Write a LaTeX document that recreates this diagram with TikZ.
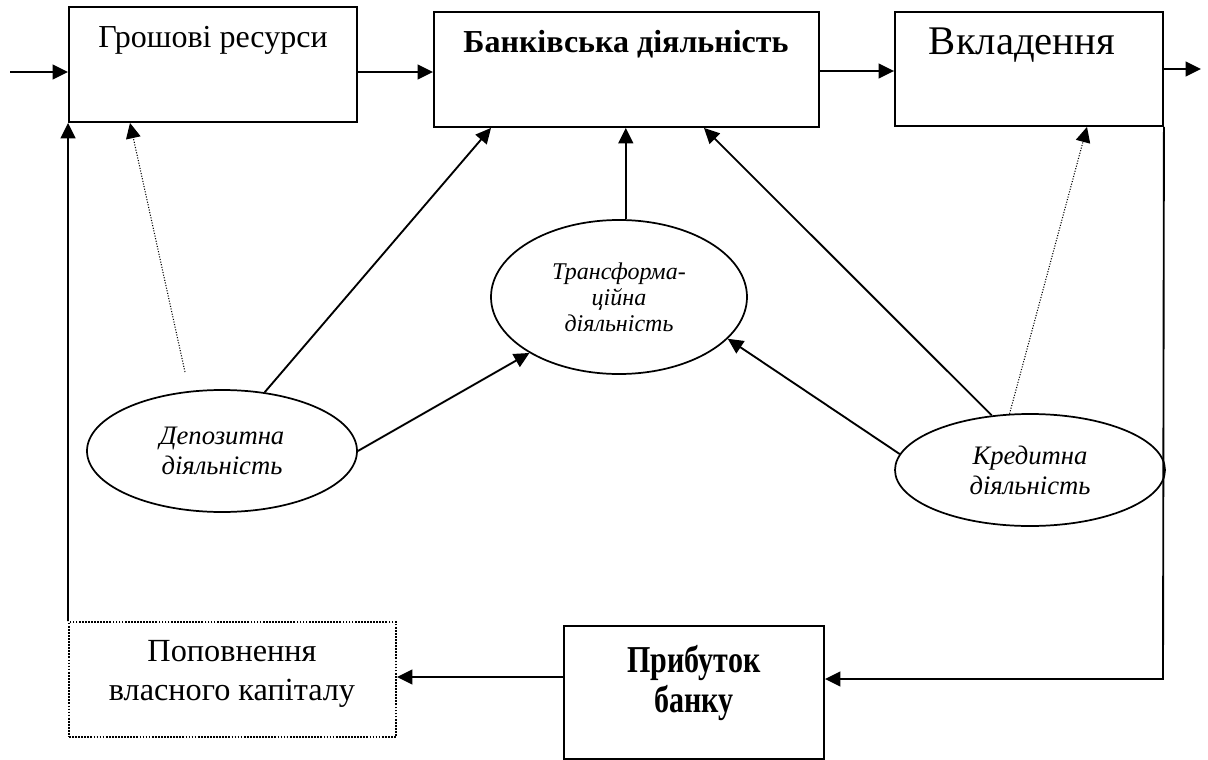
\documentclass[tikz,border=0pt]{standalone}
\usepackage{fontspec}
\setmainfont{Liberation Serif}
\usetikzlibrary{arrows.meta,shapes.geometric,fit,calc}
\newcommand\narrowtext[1]{\scalebox{0.79}[1]{#1}}
\begin{document}
\begin{tikzpicture}[x=0.75pt,y=-0.75pt,
  box/.style={draw, line width=1.4pt, inner sep=0pt},
  dbox/.style={draw, line width=1.5pt, dash pattern=on 1.3pt off 1pt, inner sep=0pt},
  ell/.style={draw, ellipse, line width=1.3pt, inner sep=0pt, align=center,
    font=\fontsize{20}{22.5}\selectfont\itshape},
  con/.style={line width=1.4pt, -{Triangle[length=11.5pt,width=11pt]}},
  dot/.style={line width=0.8pt, dash pattern=on 0.8pt off 1.2pt, -{Triangle[length=11.5pt,width=11pt]}},
  txt/.style={inner sep=0pt, font=\fontsize{24}{29}\selectfont},
  btxt/.style={inner sep=0pt, font=\fontsize{24}{29}\selectfont\bfseries},
]
\useasboundingbox (0,0) rectangle (1208,760);

% boxes
\node[box, fit={(69,7) (357,122)}] (b1) {};
\node[box, fit={(434,12) (819,127)}] (b2) {};
\node[box, fit={(895,12) (1163,126)}] (b3) {};
\node[dbox, fit={(69,622) (396,737)}] (b4) {};
\node[box, fit={(564,626) (824,759)}] (b5) {};

% box texts
\node[txt, anchor=base] (t1) at (213,47) {Грошові ресурси};
\node[btxt, anchor=base] (t2) at (626,52) {Банківська діяльність};
\node[txt, anchor=base, font=\fontsize{30.5}{34}\selectfont] (t3) at (1022,55) {Вкладення};
\node[txt, align=center, font=\fontsize{24.2}{29.25}\selectfont] (t4) at (232,674) {Поповнення\\власного капіталу};
\node[txt, align=center, font=\fontsize{28.5}{30}\selectfont\bfseries] (t5) at (694,683) {\narrowtext{Прибуток}\\\narrowtext{банку}};

% ellipses
\node[ell, minimum width=270*0.75pt, minimum height=122*0.75pt] (dep) at (222,451) {Депозитна\\діяльність};
\node[ell, minimum width=256*0.75pt, minimum height=154*0.75pt,
  font=\fontsize{18}{19.5}\selectfont\itshape] (tr) at (619,297) {Трансформа-\\ційна\\діяльність};
\node[ell, minimum width=270*0.75pt, minimum height=112*0.75pt] (cr) at (1030,470) {Кредитна\\діяльність};

% helper coordinates
\coordinate (in) at (10,72);
\coordinate (yA) at (0,72);
\coordinate (yB) at (0,71);
\coordinate (out) at (1201,69);
\coordinate (dfree) at (185,372);
\coordinate (x130) at (130,0);
\coordinate (x491) at (491,0);
\coordinate (x704) at (704,0);
\coordinate (x1087) at (1087,0);
\coordinate (r) at (1163,679);
\coordinate (yC) at (0,677);

% top row arrows
\draw[con] (in) -- (in -| b1.west);
\draw[con] (b1.east |- yA) -- (b2.west |- yA);
\draw[con] (b2.east |- yB) -- (b3.west |- yB);
\draw[con] (b3.east |- out) -- (out);

% dotted arrows
\draw[dot] (dfree) -- (b1.south -| x130);
\draw[dot] (cr.110) -- (b3.south -| x1087);

% ellipse connectors
\draw[con] (dep.54) -- (b2.south -| x491);
\draw[con] (tr.85) -- (tr.85 |- b2.south);
\draw[con] (cr.125) -- (b2.south -| x704);
\draw[con] (dep.east) -- (tr.212);
\draw[con] (cr.173) -- (tr.-21);

% feedback loop
\draw[con] (b3.south east) -- (r) -- (r -| b5.east);
\draw[con] (b5.west |- yC) -- (b4.east |- yC);
\draw[con] (b4.north west) -- (b1.south west);
\end{tikzpicture}
\end{document}
